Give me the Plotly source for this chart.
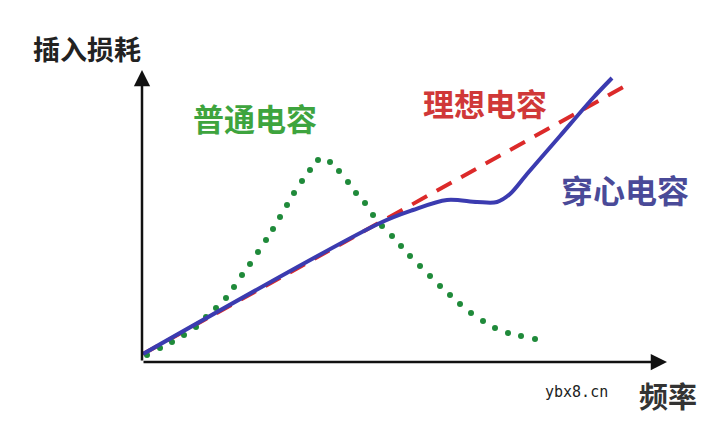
import plotly.graph_objects as go

# Axis extents (arbitrary units)
x_max = 525
y_max = 292

# 普通电容 (ordinary capacitor) — dotted curve
normal_x = [5, 18, 30, 42, 54, 64, 74, 84, 92, 100, 108, 116, 124, 131, 138, 145, 152, 160, 168, 176,
            188, 197, 206, 214, 223, 231, 240, 250, 259, 268, 278, 288, 298, 308, 318, 329, 341, 353, 366, 379, 393]
normal_y = [7, 14, 20, 27, 35, 45, 54, 64, 75, 87, 98, 110, 122, 133, 145, 157, 169, 181, 192, 202,
            200, 191, 180, 169, 159, 147, 136, 126, 116, 106, 96, 86, 76, 67, 58, 49, 41, 34, 29, 26, 23]

# 理想电容 (ideal capacitor) — dashed line
ideal_x = [1, 485]
ideal_y = [8, 277]

# 穿心电容 (feedthrough capacitor) — solid curve
feed_x = [1, 238, 271, 305, 335, 355, 368, 385, 418, 451, 470]
feed_y = [8, 139, 152, 162, 160, 160, 168, 188, 226, 264, 284]

fig = go.Figure()

fig.add_trace(go.Scatter(x=ideal_x, y=ideal_y, mode="lines",
                         line=dict(color="#dc2a2a", width=4, dash="17px,11px"),
                         cliponaxis=False, hoverinfo="skip"))
fig.add_trace(go.Scatter(x=normal_x, y=normal_y, mode="markers",
                         marker=dict(color="#1f8a3a", size=6),
                         cliponaxis=False, hoverinfo="skip"))
fig.add_trace(go.Scatter(x=feed_x, y=feed_y, mode="lines",
                         line=dict(color="#3b3bb0", width=4, shape="spline", smoothing=0.9),
                         cliponaxis=False, hoverinfo="skip"))

cjk = "Noto Sans CJK SC"
annotations = [
    # axes with arrowheads
    dict(x=x_max, y=0, ax=0, ay=0, xref="x", yref="y", axref="x", ayref="y", text="",
         showarrow=True, arrowhead=2, arrowsize=1.3, arrowwidth=2.5, arrowcolor="#111"),
    dict(x=0, y=y_max, ax=0, ay=0, xref="x", yref="y", axref="x", ayref="y", text="",
         showarrow=True, arrowhead=2, arrowsize=1.3, arrowwidth=2.5, arrowcolor="#111"),
    dict(x=-55, y=314, xref="x", yref="y", text="插入损耗", showarrow=False,
         font=dict(family=cjk, size=27, color="#222", weight="bold")),
    dict(x=526, y=-33, xref="x", yref="y", text="频率", showarrow=False,
         font=dict(family=cjk, size=29, color="#333", weight="bold")),
    dict(x=113, y=245, xref="x", yref="y", text="普通电容", showarrow=False,
         font=dict(family=cjk, size=31, color="#3ea43e", weight="bold")),
    dict(x=343, y=260, xref="x", yref="y", text="理想电容", showarrow=False,
         font=dict(family=cjk, size=31, color="#d03838", weight="bold")),
    dict(x=483, y=173, xref="x", yref="y", text="穿心电容", showarrow=False,
         font=dict(family=cjk, size=32, color="#4a4a98", weight="bold")),
    dict(x=434, y=-30, xref="x", yref="y", text="ybx8.cn", showarrow=False,
         font=dict(family="DejaVu Sans Mono", size=15, color="#222")),
]

fig.update_layout(
    width=723, height=424,
    margin=dict(l=0, r=0, t=0, b=0),
    paper_bgcolor="white", plot_bgcolor="white",
    showlegend=False,
    xaxis=dict(range=[-142, 581], visible=False, fixedrange=True),
    yaxis=dict(range=[-62, 362], visible=False, fixedrange=True),
    annotations=annotations,
)

fig.write_html("out.html", config={"displayModeBar": False},
               post_script="document.body.style.margin='0';")
